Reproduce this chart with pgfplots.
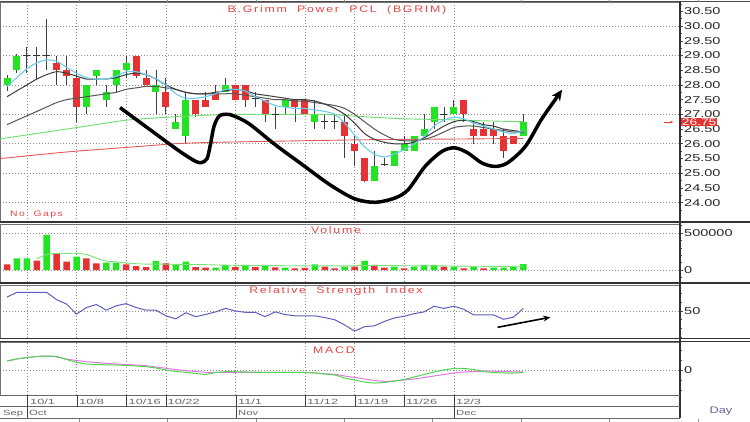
\documentclass[border=0pt]{standalone}
\usepackage{pgfplots}
\pgfplotsset{compat=1.18}
\usepackage{pgfplotstable}
\usepackage{graphicx}
\usepackage{fontspec}
\setmainfont{Liberation Sans}
\newfontfamily\spaced[LetterSpace=14]{Liberation Sans}
\usetikzlibrary{arrows.meta}

\definecolor{cgreen}{RGB}{34,228,34}
\definecolor{cred}{RGB}{230,50,50}
\definecolor{ttl}{RGB}{232,72,72}
\definecolor{macyan}{RGB}{105,205,235}
\definecolor{madark}{RGB}{60,60,60}
\definecolor{madark2}{RGB}{85,85,85}
\definecolor{magreen}{RGB}{110,220,110}
\definecolor{mared}{RGB}{225,90,90}
\definecolor{rsiblue}{RGB}{95,95,185}
\definecolor{macdgreen}{RGB}{80,215,80}
\definecolor{macdpink}{RGB}{225,120,225}
\definecolor{volma}{RGB}{120,225,120}
\definecolor{dategray}{RGB}{105,105,105}
\definecolor{daycol}{RGB}{110,100,150}

\newcommand{\sx}[1]{\scalebox{1.45}[1]{#1}}

\pgfplotstableread{
i o h l c
0 28.00 28.35 27.80 28.25
1 28.50 29.05 28.40 29.00
8 27.25 28.00 27.00 28.00
9 28.30 28.50 28.00 28.50
10 27.50 28.00 27.25 27.75
11 28.00 28.50 27.75 28.50
12 28.50 29.00 28.25 28.75
15 27.75 28.50 27.00 28.00
17 26.50 27.00 26.50 26.75
18 26.25 27.75 26.00 27.50
22 27.75 28.25 27.75 28.00
28 27.25 27.50 27.00 27.50
31 26.75 27.50 26.50 27.00
37 24.75 25.75 24.75 25.25
39 25.25 25.75 25.25 25.75
40 25.75 26.25 25.75 26.00
41 25.75 26.25 25.75 26.25
42 26.25 27.00 26.25 26.50
43 26.75 27.25 26.50 27.25
45 27.00 27.50 27.00 27.25
52 26.25 27.00 26.25 26.75
}\gc

\pgfplotstableread{
i o h l c
5 28.75 29.00 28.00 28.50
6 28.50 29.00 28.00 28.30
7 28.25 28.50 26.75 27.25
13 29.00 29.00 28.25 28.30
14 28.25 28.50 28.00 28.00
16 27.75 28.25 27.00 27.25
19 27.50 27.50 26.90 27.00
20 27.50 27.75 27.25 27.25
21 27.75 28.00 27.50 27.50
23 28.00 28.00 27.50 27.50
24 28.00 28.00 27.25 27.50
26 27.50 27.50 26.75 27.00
29 27.50 27.50 26.75 27.25
30 27.50 27.50 27.00 27.00
34 26.75 27.00 25.50 26.25
35 26.00 26.25 25.25 25.75
36 25.50 25.50 24.70 24.75
46 27.50 27.50 26.75 27.00
47 26.50 26.75 26.00 26.25
48 26.50 26.75 26.25 26.25
49 26.50 26.75 26.00 26.25
50 26.25 26.50 25.50 25.75
51 26.25 26.25 26.00 26.00
}\rc

\pgfplotstableread{
i o h l c
2 29.00 29.30 28.40 29.00
3 29.00 29.30 28.20 29.00
4 29.00 30.25 28.50 29.00
25 27.55 27.75 27.25 27.55
27 27.00 27.25 26.50 27.00
32 26.75 27.00 26.50 26.75
33 26.75 27.00 26.50 26.75
38 25.30 25.50 25.25 25.30
44 27.00 27.25 26.75 27.00
}\dc

\pgfplotstableread{
i v
1 158000
2 158000
4 473000
7 180000
10 100000
11 100000
15 122000
17 77000
18 112000
21 32000
22 68000
24 68000
26 68000
28 32000
31 77000
34 45000
36 122000
39 45000
41 45000
42 68000
43 68000
45 45000
47 45000
49 32000
50 32000
51 45000
52 80000
}\vg

\pgfplotstableread{
i v
0 77000
3 126000
5 225000
6 112000
8 158000
9 90000
12 77000
13 54000
14 40000
16 90000
19 40000
20 32000
23 40000
25 40000
27 36000
29 23000
30 30000
32 45000
33 23000
35 45000
37 68000
38 32000
40 23000
44 45000
46 23000
48 23000
}\vr

\pgfplotsset{
  panel/.style={
    scale only axis, width=680pt,
    xmin=-0.705, xmax=67.77,
    xtick={2,7,12,16,23,30,35,40,45}, xticklabels={},
    xtick style={draw=none},
    xmajorgrids, ymajorgrids,
    grid style={line width=0.7pt, dash pattern=on 0.9pt off 2.1pt, black!45},
    axis line style={black!55, line width=0.6pt},
    ytick pos=right, yticklabel pos=right,
    tick align=outside,
    major tick length=3pt, minor tick length=2pt,
    ytick style={black!70, line width=0.6pt},
    yticklabel style={font=\fontsize{10}{11}\selectfont, text=black!85, inner sep=1pt},
    scaled y ticks=false,
    anchor=north west,
    clip=true,
  },
  wick/.style={draw=none, mark=none, error bars/.cd, y dir=both, y explicit, error mark=none,
    error bar style={draw=black!75, line width=0.9pt}},
  body/.style={draw=none, mark=none, error bars/.cd, y dir=both, y explicit, error mark=none,
    error bar style={draw=#1, line width=7pt}},
}

\begin{document}
\begin{tikzpicture}
\path[use as bounding box] (0pt,0pt) rectangle (750pt,-422pt);
\fill[white] (0pt,0pt) rectangle (750pt,-422pt);

% ---------------- price panel
\begin{axis}[panel, at={(0pt,-2pt)}, height=220pt, ymin=23.34, ymax=30.82,
  ytick={24,25,26,27,28,29,30},
  yticklabels={\sx{24.00},\sx{25.00},\sx{26.00},\sx{27.00},\sx{28.00},\sx{29.00},\sx{30.00}},
  extra y ticks={24.5,25.5,26.5,27.5,28.5,29.5,30.5},
  extra y tick labels={\sx{24.50},\sx{25.50},\sx{26.50},\sx{27.50},\sx{28.50},\sx{29.50},\sx{30.50}},
  extra y tick style={grid=none},
  minor ytick={23.75,24.25,24.75,25.25,25.75,26.25,26.75,27.25,27.75,28.25,28.75,29.25,29.75,30.25,30.75}]
% wicks
\addplot[wick] table[x=i, y expr={(\thisrow{h}+\thisrow{l})/2}, y error expr={(\thisrow{h}-\thisrow{l})/2}] {\gc};
\addplot[wick] table[x=i, y expr={(\thisrow{h}+\thisrow{l})/2}, y error expr={(\thisrow{h}-\thisrow{l})/2}] {\rc};
\addplot[wick] table[x=i, y expr={(\thisrow{h}+\thisrow{l})/2}, y error expr={(\thisrow{h}-\thisrow{l})/2}] {\dc};
% bodies
\addplot[body=cgreen] table[x=i, y expr={(\thisrow{o}+\thisrow{c})/2}, y error expr={abs(\thisrow{c}-\thisrow{o})/2}] {\gc};
\addplot[body=cred] table[x=i, y expr={(\thisrow{o}+\thisrow{c})/2}, y error expr={abs(\thisrow{c}-\thisrow{o})/2}] {\rc};
\addplot[only marks, mark=-, mark size=3.5pt, mark options={black!80, line width=1.2pt}] table[x=i, y=c] {\dc};
% moving averages
\addplot[mared, line width=0.9pt, smooth] coordinates {(-1,25.50)(0,25.52)(6,25.72)(13,25.9)(18,26.02)(26,26.08)(33,26.12)(37,26.14)(45,26.16)(52,26.18)};
\addplot[magreen, line width=0.9pt, smooth] coordinates {(-1,26.15)(0,26.2)(4,26.4)(8,26.6)(12,26.8)(16,26.9)(20,26.97)(24,27.0)(28,27.0)(32,27.0)(36,26.92)(40,26.85)(44,26.82)(48,26.78)(52,26.75)};
\addplot[madark2, line width=1pt, smooth] coordinates {(0,26.65)(1,26.8)(2,26.95)(3,27.1)(4,27.25)(5,27.4)(6,27.5)(7,27.55)(8,27.6)(9,27.65)(10,27.7)(11,27.75)(12,27.85)(13,27.9)(14,27.95)(15,27.95)(16,27.9)(17,27.85)(18,27.75)(19,27.7)(20,27.7)(21,27.7)(22,27.7)(23,27.7)(24,27.65)(25,27.6)(26,27.55)(27,27.5)(28,27.5)(29,27.45)(30,27.45)(31,27.4)(32,27.35)(33,27.3)(34,27.2)(35,27.0)(36,26.75)(37,26.5)(38,26.3)(39,26.15)(40,26.1)(41,26.1)(42,26.15)(43,26.25)(44,26.4)(45,26.55)(46,26.6)(47,26.6)(48,26.55)(49,26.5)(50,26.45)(51,26.4)(52,26.4)};
\addplot[madark, line width=1pt, smooth] coordinates {(0,27.6)(1,27.8)(2,28.0)(3,28.2)(4,28.35)(5,28.45)(6,28.4)(7,28.3)(8,28.2)(9,28.2)(10,28.2)(11,28.25)(12,28.35)(13,28.4)(14,28.35)(15,28.2)(16,28.0)(17,27.85)(18,27.75)(19,27.7)(20,27.7)(21,27.75)(22,27.8)(23,27.85)(24,27.8)(25,27.7)(26,27.65)(27,27.6)(28,27.55)(29,27.5)(30,27.5)(31,27.45)(32,27.35)(33,27.2)(34,27.0)(35,26.7)(36,26.35)(37,26.15)(38,26.05)(39,26.0)(40,26.0)(41,26.05)(42,26.2)(43,26.4)(44,26.6)(45,26.75)(46,26.8)(47,26.75)(48,26.65)(49,26.6)(50,26.5)(51,26.45)(52,26.4)};
\addplot[macyan, line width=1.1pt, smooth] coordinates {(0,27.95)(1,28.25)(2,28.55)(3,28.75)(4,28.85)(5,28.8)(6,28.6)(7,28.4)(8,28.25)(9,28.2)(10,28.2)(11,28.3)(12,28.45)(13,28.45)(14,28.35)(15,28.2)(16,28.0)(17,27.7)(18,27.55)(19,27.55)(20,27.6)(21,27.7)(22,27.85)(23,27.85)(24,27.8)(25,27.6)(26,27.45)(27,27.3)(28,27.25)(29,27.2)(30,27.2)(31,27.15)(32,27.1)(33,27.0)(34,26.7)(35,26.3)(36,25.9)(37,25.65)(38,25.55)(39,25.65)(40,25.8)(41,26.0)(42,26.25)(43,26.6)(44,26.8)(45,26.9)(46,26.85)(47,26.7)(48,26.6)(49,26.5)(50,26.4)(51,26.35)(52,26.45)};
% hand-drawn pattern annotation
\addplot[black, line width=3.5pt, smooth, tension=0.5, -{Stealth[length=11pt,width=10pt]}] coordinates {(11.38,27.23)(14.4,26.48)(17.4,25.74)(19.0,25.40)(19.6,25.36)(20.15,25.5)(20.5,26.0)(20.85,26.6)(21.4,26.95)(22.3,27.0)(23.3,26.88)(24.5,26.65)(27,25.97)(29.5,25.35)(32.5,24.61)(35,24.13)(37.1,24.01)(39.1,24.16)(40.4,24.44)(42.1,25.23)(43.8,25.74)(45.1,25.86)(46.4,25.69)(47.8,25.35)(49.1,25.23)(50.4,25.35)(52.2,25.91)(53.8,26.82)(55.2,27.5)(55.9,27.84)};
\end{axis}

% ---------------- volume panel
\begin{axis}[panel, at={(0pt,-224pt)}, height=58pt, ymin=-162162, ymax=621622,
  ytick={0,500000}, yticklabels={\sx{0},\sx{500000}},
  minor ytick={-100000,100000,200000,300000,400000,600000}]
\addplot[ybar, bar width=6.5pt, bar shift=0pt, fill=cgreen, draw=none] table[x=i, y=v] {\vg};
\addplot[ybar, bar width=6.5pt, bar shift=0pt, fill=cred, draw=none] table[x=i, y=v] {\vr};
\addplot[volma, line width=0.9pt, smooth] coordinates {(3,150000)(4,210000)(5,225000)(6,225000)(7,225000)(8,210000)(9,160000)(10,120000)(11,110000)(12,95000)(13,85000)(14,80000)(15,80000)(16,78000)(17,77000)(18,77000)(19,75000)(20,72000)(21,68000)(22,65000)(24,62000)(26,60000)(28,58000)(30,56000)(32,56000)(34,55000)(36,60000)(38,60000)(40,58000)(42,55000)(44,55000)(46,52000)(48,50000)(50,48000)(52,52000)};
\end{axis}

% ---------------- RSI panel
\begin{axis}[panel, at={(0pt,-285pt)}, height=53pt, ymin=19.0, ymax=79.9,
  ytick={50}, yticklabels={\sx{50}}, minor ytick={20,30,40,60,70}]
\addplot[rsiblue, line width=1pt] coordinates {(0,66)(1,71.5)(2,71.5)(3,71.5)(4,71.5)(5,63)(6,58)(7,46.5)(8,54)(9,57.5)(10,51)(11,56)(12,58.5)(13,54)(14,51)(15,51)(16,44.5)(17,41)(18,48)(19,43.5)(20,46)(21,49)(22,53)(23,50)(24,48.5)(25,48.5)(26,43.5)(27,49)(28,46)(29,44.5)(30,44.5)(31,44.5)(32,42.5)(33,40)(34,34)(35,27)(36,32)(37,33)(38,38)(39,42)(40,44)(41,47)(42,49)(43,55.5)(44,53)(45,55.5)(46,52)(47,45.5)(48,45.5)(49,45.5)(50,40.5)(51,43)(52,53)};
\addplot[black, line width=1.6pt, -{Stealth[length=7pt,width=6pt]}] coordinates {(49.4,31.3)(54.7,42.8)};
\end{axis}

% ---------------- MACD panel
\begin{axis}[panel, at={(0pt,-342pt)}, height=53pt, ymin=-25, ymax=28,
  ytick={0}, yticklabels={\sx{0}}, minor ytick={-20,-10,10,20}]
\addplot[macdpink, line width=1pt, smooth] coordinates {(0,9)(1,11)(2,12.5)(3,13.5)(4,14)(5,13)(6,11)(7,9.5)(8,8.3)(9,7.5)(10,6.7)(11,6)(12,5.5)(13,5)(14,4.3)(15,3)(16,1.7)(17,0.5)(18,-0.7)(19,-1.5)(20,-2.3)(22,-2.3)(26,-2.3)(29,-2.3)(30,-2.5)(31,-3)(32,-3.8)(33,-4.3)(34,-6)(35,-7.5)(36,-9)(37,-10.5)(38,-11.3)(39,-11)(40,-10)(41,-9)(42,-7.5)(43,-6)(44,-4.5)(45,-3)(46,-2)(47,-1.5)(48,-1.2)(49,-1.2)(50,-1.5)(51,-1.8)(52,-2)};
\addplot[macdgreen, line width=1pt, smooth] coordinates {(0,9)(1,11)(2,12.3)(3,13.5)(4,14)(5,13.5)(6,10.5)(7,7.7)(8,6)(9,5.5)(10,5.2)(11,5)(12,4.5)(13,4)(14,3.3)(15,2)(16,0)(17,-1.5)(18,-2.3)(19,-3.5)(20,-4.3)(21,-2.5)(22,-1.7)(23,-1.7)(24,-2)(26,-2.3)(29,-2.3)(30,-2.5)(31,-3)(32,-4)(33,-5)(34,-8)(35,-10)(36,-12)(37,-13)(38,-12.5)(39,-11)(40,-9.5)(41,-7)(42,-4.5)(43,-2)(44,0)(45,1.5)(46,1.5)(47,0.5)(48,-1.5)(49,-2.5)(50,-3)(51,-3)(52,-2.5)};
\end{axis}

% ---------------- frames and separators
\draw[black!70, line width=1.2pt] (0pt,-1.5pt) -- (750pt,-1.5pt);
\draw[black!80, line width=2pt] (0pt,-222.5pt) -- (750pt,-222.5pt);
\draw[black!80, line width=2pt] (0pt,-283.3pt) -- (750pt,-283.3pt);
\draw[black!80, line width=1.3pt] (0pt,-338.6pt) -- (750pt,-338.6pt);
\draw[black!80, line width=1.3pt] (0pt,-341.2pt) -- (750pt,-341.2pt);
\draw[black!80, line width=2.2pt] (680pt,-1.5pt) -- (680pt,-418pt);
\draw[black!60, line width=0.6pt] (0pt,-395pt) -- (680pt,-395pt);
\draw[black!60, line width=0.6pt] (0pt,-406.5pt) -- (680pt,-406.5pt);
\draw[black!60, line width=0.6pt] (0pt,-418pt) -- (680pt,-418pt);
\foreach \xx in {27,77,126,166,236,305,355,404,454}
  \draw[black!75, line width=0.9pt] (\xx pt,-395pt) -- (\xx pt,-406.5pt);
\foreach \xx in {27,236,454}
  \draw[black!75, line width=0.9pt] (\xx pt,-406.5pt) -- (\xx pt,-418pt);
\foreach \xx in {79,167.4,255.8,344.2,432.6,521,609.4,697.8} {
  \draw[black!45, line width=0.6pt] (\xx pt,0pt) -- (\xx pt,-2.5pt);
  \draw[black!45, line width=0.6pt] (\xx pt,-419pt) -- (\xx pt,-422pt);
}

% ---------------- date labels
\begin{scope}[every node/.style={anchor=base west, inner sep=0pt, text=dategray, font=\fontsize{7.5}{8}\selectfont}]
\node at (30pt,-404.3pt) {\scalebox{1.7}[1]{10/1}};
\node at (79pt,-404.3pt) {\scalebox{1.7}[1]{10/8}};
\node at (128.5pt,-404.3pt) {\scalebox{1.7}[1]{10/16}};
\node at (167.5pt,-404.3pt) {\scalebox{1.7}[1]{10/22}};
\node at (238pt,-404.3pt) {\scalebox{1.7}[1]{11/1}};
\node at (307pt,-404.3pt) {\scalebox{1.7}[1]{11/12}};
\node at (357pt,-404.3pt) {\scalebox{1.7}[1]{11/19}};
\node at (406pt,-404.3pt) {\scalebox{1.7}[1]{11/26}};
\node at (456pt,-404.3pt) {\scalebox{1.7}[1]{12/3}};
\node at (3pt,-415.5pt) {\scalebox{1.5}[1]{Sep}};
\node at (29pt,-415.5pt) {\scalebox{1.5}[1]{Oct}};
\node at (238pt,-415.5pt) {\scalebox{1.5}[1]{Nov}};
\node at (456pt,-415.5pt) {\scalebox{1.5}[1]{Dec}};
\end{scope}
\node[anchor=base, inner sep=0pt, text=daycol, font=\fontsize{9.5}{10}\selectfont] at (721pt,-413.5pt) {\scalebox{1.35}[1]{Day}};

% ---------------- titles
\begin{scope}[every node/.style={anchor=base, inner sep=0pt, text=ttl, font=\fontsize{9.5}{10}\selectfont}]
\node at (337pt,-12.8pt) {\scalebox{1.3}[1]{\spaced B.Grimm\ \ Power\ \ PCL\ \ (BGRIM)}};
\node at (336pt,-233.5pt) {\scalebox{1.3}[1]{\spaced Volume}};
\node at (336pt,-294pt) {\scalebox{1.3}[1]{\spaced Relative\ \ Strength\ \ Index}};
\node at (334pt,-353.5pt) {\scalebox{1.3}[1]{\spaced MACD}};
\end{scope}
\node[anchor=base west, inner sep=0pt, text=ttl, font=\fontsize{8}{9}\selectfont] at (10pt,-216.5pt) {\scalebox{1.3}[1]{\spaced No\ \ Gaps}};

% ---------------- last price marker
\draw[cred, line width=0.7pt, -{Stealth[length=2.5pt,width=2.5pt]}] (664pt,-121.9pt) -- (673pt,-121.9pt);
\node[fill=cred, text=white, inner sep=0.5pt, anchor=west, font=\fontsize{9.5}{10}\selectfont] at (681.2pt,-121.9pt) {\sx{26.75}};
\end{tikzpicture}
\end{document}
